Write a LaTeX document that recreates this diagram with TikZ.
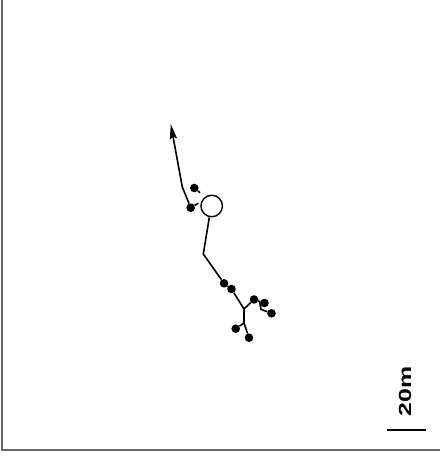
\documentclass[tikz,border=0pt]{standalone}
\usepackage{fontspec}
\setmainfont{Liberation Sans}
\usetikzlibrary{arrows.meta}
\begin{document}
\begin{tikzpicture}[x=1pt,y=-1pt,
  trk/.style={line width=1.6pt,black},
  dot/.style={circle,fill=black,inner sep=0pt,minimum size=8.6pt},
  frame/.style={line width=2pt,color=black!60}]
\useasboundingbox (0,0) rectangle (440,457);
\draw[frame] (1.5,0) -- (1.5,449.5) -- (440,449.5);
% nodes
\node[circle,draw,line width=1.4pt,inner sep=0pt,minimum size=21.5pt] (c) at (211.7,206) {};
\node[dot] (d1) at (190.7,207.7) {};
\node[dot] (d2) at (194.3,188) {};
\node[dot] (d3) at (224,283.3) {};
\node[dot] (d4) at (231.5,289) {};
\node[dot] (a) at (254,299.5) {};
\node[dot] (b) at (264.5,303) {};
\node[dot] (cc) at (271.5,313.3) {};
\node[dot] (e) at (235.7,328.7) {};
\node[dot] (f) at (249,337.7) {};
\coordinate (t) at (170.7,124);
\coordinate (k1) at (182.3,187);
\coordinate (s1) at (198.3,203.3);
\coordinate (s2) at (200,192.7);
\coordinate (k2) at (203.3,254);
\coordinate (j) at (244,309);
\coordinate (j2) at (244,323);
\coordinate (k3) at (259.5,301.3);
\coordinate (k4) at (261,309.3);
% connectors
\draw[trk,-{Stealth[length=15pt,width=7pt,inset=2pt]}] (k1) -- (t);
\draw[trk] (d1) -- (k1);
\draw[trk] (d1) -- (s1);
\draw[trk] (d2) -- (s2);
\draw[trk] (c.south) ++(-2.4,0) -- (k2) -- (d3) -- (d4) -- (j);
\draw[trk] (j) -- (a) -- (b);
\draw[trk] (k3) -- (k4) -- (cc);
\draw[line width=2.2pt] (j) -- (j2);
\draw[trk] (j2) -- (e);
\draw[trk] (j2) -- (f);
% scale bar
\coordinate (sb1) at (387,430);
\coordinate (sb2) at (426,430);
\draw[line width=1.5pt] (sb1) -- (sb2);
\node[rotate=90,inner sep=0pt,font=\bfseries\fontsize{17.5}{20}\selectfont] (lbl) at (405,391.5) {\scalebox{1.42}[1]{20m}};
\end{tikzpicture}
\end{document}
